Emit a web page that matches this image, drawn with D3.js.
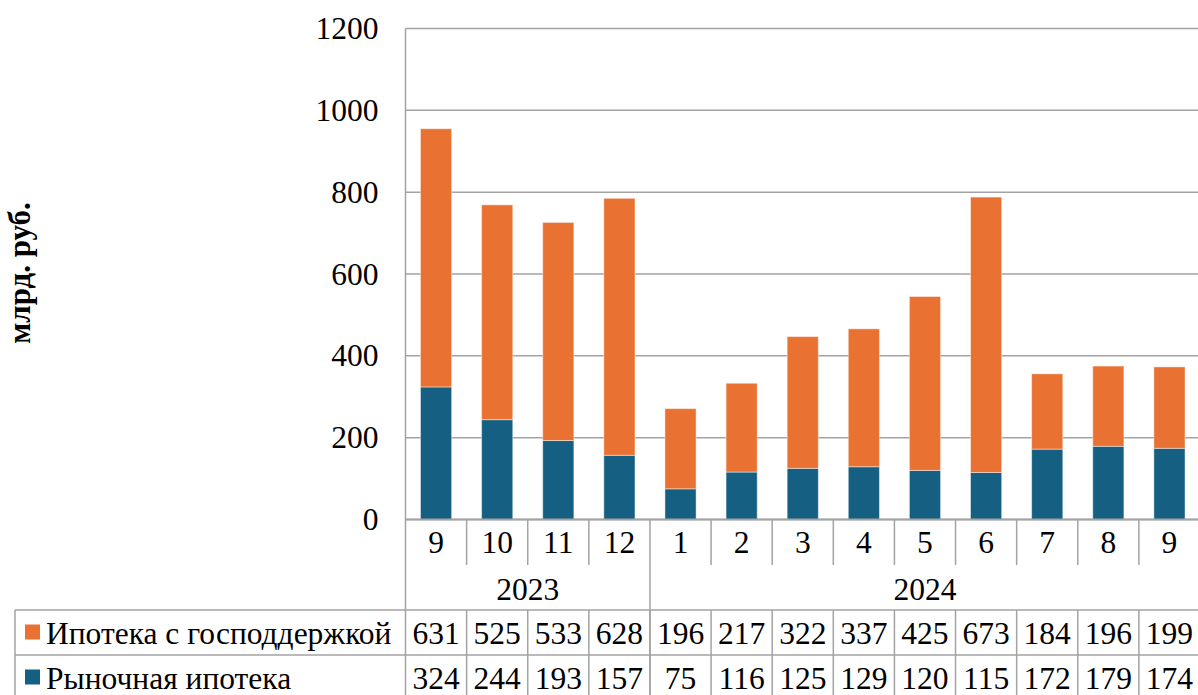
<!DOCTYPE html>
<html>
<head>
<meta charset="utf-8">
<script src="https://cdn.jsdelivr.net/npm/d3@7"></script>
<style>
  html, body { margin: 0; padding: 0; background: #fff; }
  svg { display: block; }
</style>
</head>
<body>
<svg id="chart" width="1198" height="695" font-family="'Liberation Serif', 'Times New Roman', serif"></svg>
<script>
// Monthly mortgage issuance, bn RUB
const months = ["9", "10", "11", "12", "1", "2", "3", "4", "5", "6", "7", "8", "9"];
const years = [
  { label: "2023", from: 0, to: 4 },
  { label: "2024", from: 4, to: 13 }
];
const marketMortgage = [324, 244, 193, 157, 75, 116, 125, 129, 120, 115, 172, 179, 174];
const stateMortgage = [631, 525, 533, 628, 196, 217, 322, 337, 425, 673, 184, 196, 199];
const seriesNames = ["Ипотека с господдержкой", "Рыночная ипотека"];
const yTicks = [0, 200, 400, 600, 800, 1000, 1200];

const colors = { state: "#E97132", market: "#156082" };
const lineColor = "#a3a3a3";
const serif = "'Liberation Serif', 'Times New Roman', serif";
const fontSize = 31.5;

const svg = d3.select("#chart");

const plotLeft = 405.5, plotRight = 1200, plotTop = 28.5, plotBottom = 519.5;
const monthRowBottom = 565, yearRowBottom = 610, tableRow2 = 655, tableBottom = 700;
const tableLeft = 15;

const x = d3.scaleBand()
  .domain(d3.range(months.length))
  .range([plotLeft, plotRight])
  .paddingInner(0.49)
  .paddingOuter(0.245);
const step = x.step();
const colLeft = i => plotLeft + i * step;

const y = d3.scaleLinear().domain([0, 1200]).range([plotBottom, plotTop]);

// Gridlines
svg.append("g")
  .selectAll("line")
  .data(yTicks)
  .join("line")
  .attr("x1", plotLeft).attr("x2", 1198)
  .attr("y1", d => y(d)).attr("y2", d => y(d))
  .attr("stroke", lineColor).attr("stroke-width", 1.5);

// Y axis tick labels
const yAxis = d3.axisLeft(y).tickValues(yTicks).tickFormat(d3.format("d")).tickSize(0).tickPadding(27);
const yAxisG = svg.append("g").attr("transform", `translate(${plotLeft},0)`).call(yAxis)
  .attr("font-family", serif).attr("font-size", fontSize);
yAxisG.select(".domain").remove();
yAxisG.selectAll("text").attr("fill", "#000");

// Y axis title
svg.append("text")
  .attr("transform", `translate(30,273) rotate(-90)`)
  .attr("text-anchor", "middle")
  .attr("font-size", 31)
  .attr("font-weight", "bold")
  .text("млрд. руб.");

// Stacked bars
const rows = months.map((m, i) => ({ i, market: marketMortgage[i], state: stateMortgage[i] }));
const stack = d3.stack().keys(["market", "state"])(rows);
svg.append("g")
  .selectAll("g")
  .data(stack)
  .join("g")
  .attr("fill", d => colors[d.key])
  .selectAll("rect")
  .data(d => d)
  .join("rect")
  .attr("x", d => x(d.data.i))
  .attr("width", x.bandwidth())
  .attr("y", d => y(d[1]))
  .attr("height", d => y(d[0]) - y(d[1]))
  .attr("stroke", "rgba(255,255,255,0.45)")
  .attr("stroke-width", 1);

// Category axis and data table lines
const grid = svg.append("g").attr("stroke", lineColor).attr("stroke-width", 1.5);
grid.append("line").attr("x1", plotLeft).attr("x2", 1198)
  .attr("y1", plotBottom).attr("y2", plotBottom).attr("stroke-width", 2);
grid.append("line").attr("x1", plotLeft).attr("x2", plotLeft)
  .attr("y1", plotTop).attr("y2", tableBottom);
d3.range(1, months.length + 1).forEach(i => {
  const isYearBreak = years.some(yr => yr.from === i);
  grid.append("line")
    .attr("x1", colLeft(i)).attr("x2", colLeft(i))
    .attr("y1", plotBottom).attr("y2", isYearBreak ? tableBottom : monthRowBottom);
  grid.append("line")
    .attr("x1", colLeft(i)).attr("x2", colLeft(i))
    .attr("y1", yearRowBottom).attr("y2", tableBottom);
});
[yearRowBottom, tableRow2].forEach(yy => {
  grid.append("line").attr("x1", tableLeft).attr("x2", 1198).attr("y1", yy).attr("y2", yy);
});
grid.append("line").attr("x1", tableLeft).attr("x2", tableLeft)
  .attr("y1", yearRowBottom).attr("y2", tableBottom);

// Month labels
svg.append("g")
  .selectAll("text")
  .data(months)
  .join("text")
  .attr("x", (d, i) => x(i) + x.bandwidth() / 2)
  .attr("y", (plotBottom + monthRowBottom) / 2)
  .attr("dy", "0.35em")
  .attr("text-anchor", "middle")
  .attr("font-size", fontSize)
  .text(d => d);

// Year labels
svg.append("g")
  .selectAll("text")
  .data(years)
  .join("text")
  .attr("x", d => (colLeft(d.from) + colLeft(d.to)) / 2)
  .attr("y", (monthRowBottom + yearRowBottom) / 2 + 1)
  .attr("dy", "0.35em")
  .attr("text-anchor", "middle")
  .attr("font-size", fontSize)
  .text(d => d.label);

// Data table rows
const tableRows = [
  { name: seriesNames[0], color: colors.state, values: stateMortgage, top: yearRowBottom },
  { name: seriesNames[1], color: colors.market, values: marketMortgage, top: tableRow2 }
];
const rowH = tableRow2 - yearRowBottom;
tableRows.forEach(r => {
  const cy = r.top + rowH / 2;
  svg.append("rect")
    .attr("x", 25).attr("y", cy - 8).attr("width", 15).attr("height", 15)
    .attr("fill", r.color);
  svg.append("text")
    .attr("x", 46).attr("y", cy).attr("dy", "0.35em")
    .attr("font-size", fontSize)
    .text(r.name);
  svg.append("g")
    .selectAll("text")
    .data(r.values)
    .join("text")
    .attr("x", (d, i) => x(i) + x.bandwidth() / 2)
    .attr("y", cy).attr("dy", "0.35em")
    .attr("text-anchor", "middle")
    .attr("font-size", fontSize)
    .text(d => d);
});
</script>
</body>
</html>
